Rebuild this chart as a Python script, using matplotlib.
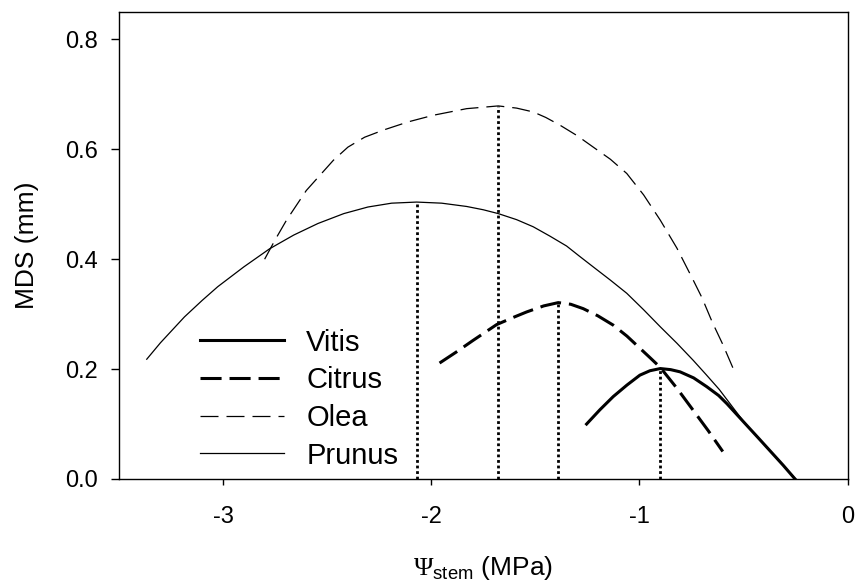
import matplotlib
matplotlib.use("Agg")
import matplotlib.pyplot as plt

plt.rcParams['font.family'] = ['Liberation Sans', 'DejaVu Sans']
plt.rcParams['mathtext.fontset'] = 'custom'
plt.rcParams['mathtext.rm'] = 'Liberation Serif'
plt.rcParams['mathtext.sf'] = 'Liberation Sans'

# values
vitis_x = [-1.254, -1.19, -1.126, -1.06, -0.998, -0.95, -0.90, -0.85, -0.805, -0.74, -0.677, -0.62, -0.58,
           -0.493, -0.43, -0.37, -0.31, -0.253]
vitis_y = [0.100, 0.126, 0.150, 0.171, 0.189, 0.197, 0.201, 0.199, 0.195, 0.184, 0.168, 0.152, 0.137,
           0.101, 0.075, 0.050, 0.025, 0.0]

citrus_x = [-1.96, -1.88, -1.80, -1.686, -1.60, -1.542, -1.46, -1.39, -1.33, -1.27, -1.20, -1.126, -1.06,
            -0.998, -0.95, -0.90, -0.82, -0.742, -0.67, -0.60]
citrus_y = [0.211, 0.231, 0.252, 0.281, 0.295, 0.304, 0.315, 0.321, 0.318, 0.310, 0.297, 0.280, 0.260,
            0.238, 0.221, 0.203, 0.165, 0.125, 0.088, 0.050]

olea_x = [-2.80, -2.75, -2.695, -2.60, -2.47, -2.40, -2.32, -2.23, -2.11, -1.99, -1.83, -1.678, -1.59, -1.51,
          -1.45, -1.382, -1.30, -1.222, -1.14, -1.061, -0.98, -0.90, -0.82, -0.742, -0.70, -0.65, -0.60, -0.55]
olea_y = [0.40, 0.435, 0.471, 0.525, 0.58, 0.604, 0.622, 0.635, 0.650, 0.662, 0.674, 0.679, 0.675, 0.668,
          0.658, 0.644, 0.625, 0.604, 0.582, 0.556, 0.517, 0.471, 0.420, 0.362, 0.330, 0.285, 0.245, 0.201]

prunus_x = [-3.366, -3.30, -3.185, -3.10, -3.025, -2.90, -2.776, -2.66, -2.544, -2.42, -2.304, -2.19, -2.07,
            -1.95, -1.83, -1.75, -1.678, -1.59, -1.51, -1.43, -1.35, -1.29, -1.222, -1.14, -1.061, -0.98,
            -0.90, -0.82, -0.742, -0.68, -0.617, -0.555, -0.493, -0.43, -0.37, -0.31, -0.25]
prunus_y = [0.218, 0.248, 0.295, 0.325, 0.350, 0.386, 0.419, 0.444, 0.465, 0.483, 0.495, 0.502, 0.504,
            0.502, 0.496, 0.490, 0.483, 0.472, 0.459, 0.442, 0.424, 0.406, 0.386, 0.362, 0.338, 0.308,
            0.277, 0.247, 0.216, 0.190, 0.163, 0.132, 0.101, 0.075, 0.050, 0.025, 0.0]

# optimum points (dotted drop lines)
peak_x = [-0.90, -1.39, -1.678, -2.07]
peak_y = [0.201, 0.321, 0.679, 0.504]

fig = plt.figure(figsize=(8.55, 5.86), dpi=100)
ax = fig.add_axes([0.139, 0.1826, 0.8525, 0.797])

ax.plot(vitis_x, vitis_y, color='black', lw=2.2, label='Vitis')
ax.plot(citrus_x, citrus_y, color='black', lw=2.2, dashes=(6.9, 2.6), label='Citrus')
ax.plot(olea_x, olea_y, color='black', lw=0.9, dashes=(14.4, 6.4), label='Olea')
ax.plot(prunus_x, prunus_y, color='black', lw=0.9, label='Prunus')

ax.vlines(peak_x, 0, peak_y, colors='black', lw=2.0, linestyles=(0, (1.0, 1.0)))

ax.set_xlim(-3.5, 0)
ax.set_ylim(0, 0.85)
ax.set_xticks([-3, -2, -1, 0])
ax.set_xticklabels(['-3', '-2', '-1', '0'])
ax.set_yticks([0.0, 0.2, 0.4, 0.6, 0.8])
ax.set_yticklabels(['0.0', '0.2', '0.4', '0.6', '0.8'])
ax.tick_params(axis='y', direction='out', length=5.8, width=1, labelsize=17, pad=9)
ax.tick_params(axis='x', direction='out', length=4.3, width=1, labelsize=17, pad=15)
for s in ax.spines.values():
    s.set_linewidth(1.0)

ax.set_ylabel('MDS (mm)', fontsize=19, labelpad=19)
ax.set_xlabel(r'$\mathrm{\Psi}_{\mathsf{stem}}$ (MPa)', fontsize=19, labelpad=19)

ax.legend(loc='center left', bbox_to_anchor=(0.111, 0.171), frameon=False, fontsize=21,
          handlelength=2.9, handletextpad=0.75, labelspacing=0.33, borderpad=0, borderaxespad=0)

fig.savefig('out.png', dpi=100)
